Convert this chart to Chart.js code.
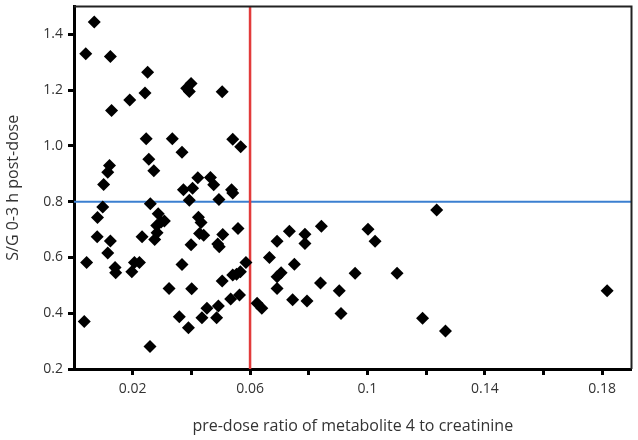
<!DOCTYPE html>
<html>
<head>
<meta charset="utf-8">
<script src="https://cdn.jsdelivr.net/npm/chart.js@4"></script>
<style>
  html, body { margin: 0; padding: 0; background: #fff; }
  #wrap { width: 638px; height: 440px; }
</style>
</head>
<body>
<div id="wrap"><canvas id="scatter"></canvas></div>
<script>
// pre-dose ratio of metabolite 4 to creatinine
const ratioX = [
  0.0069, 0.0040, 0.0124, 0.0251, 0.0242, 0.0190, 0.0128, 0.0384, 0.0399, 0.0393,
  0.0505, 0.0246, 0.0335, 0.0368, 0.0541, 0.0568, 0.0255, 0.0272, 0.0121, 0.0115,
  0.0101, 0.0422, 0.0373, 0.0404, 0.0465, 0.0476, 0.0494, 0.0393, 0.0537, 0.0541,
  0.0260, 0.0098, 0.0080, 0.0287, 0.0424, 0.0079, 0.0124, 0.0115, 0.0043, 0.0140,
  0.0142, 0.0197, 0.0206, 0.0223, 0.0232, 0.0035, 0.0259, 0.0275, 0.0283, 0.0282,
  0.0297, 0.0308, 0.0324, 0.0368, 0.0359, 0.0390, 0.0401, 0.0399, 0.0433, 0.0428,
  0.0442, 0.0436, 0.0453, 0.0486, 0.0492, 0.0490, 0.0495, 0.0505, 0.0507, 0.0534,
  0.0541, 0.0554, 0.0564, 0.0567, 0.0559, 0.0586, 0.0624, 0.0640, 0.0666, 0.0692,
  0.0692, 0.0706, 0.0692, 0.0734, 0.0751, 0.0745, 0.0787, 0.0787, 0.0794, 0.0843,
  0.0840, 0.0904, 0.0910, 0.0958, 0.1002, 0.1026, 0.1101, 0.1188, 0.1266, 0.1236,
  0.1817
];
// S/G 0-3 h post-dose
const sgY = [
  1.444, 1.331, 1.321, 1.264, 1.190, 1.165, 1.127, 1.207, 1.224, 1.195,
  1.194, 1.026, 1.026, 0.977, 1.024, 0.997, 0.952, 0.911, 0.930, 0.906,
  0.862, 0.886, 0.843, 0.848, 0.887, 0.861, 0.808, 0.805, 0.843, 0.831,
  0.793, 0.781, 0.743, 0.757, 0.744, 0.674, 0.659, 0.616, 0.582, 0.564,
  0.545, 0.549, 0.582, 0.582, 0.674, 0.370, 0.281, 0.664, 0.689, 0.715,
  0.727, 0.731, 0.489, 0.575, 0.387, 0.348, 0.488, 0.646, 0.725, 0.686,
  0.680, 0.384, 0.418, 0.384, 0.426, 0.648, 0.638, 0.516, 0.682, 0.451,
  0.537, 0.540, 0.465, 0.549, 0.704, 0.582, 0.436, 0.418, 0.600, 0.658,
  0.531, 0.545, 0.489, 0.694, 0.576, 0.448, 0.683, 0.650, 0.444, 0.712,
  0.508, 0.481, 0.399, 0.543, 0.701, 0.658, 0.543, 0.382, 0.336, 0.770,
  0.481
];

const xCutoff = 0.06;   // red line
const yCutoff = 0.8;    // blue line
const xTicks = [0.02, 0.04, 0.06, 0.08, 0.1, 0.12, 0.14, 0.16, 0.18];
const xTickLabels = ['0.02', '', '0.06', '', '0.1', '', '0.14', '', '0.18'];
const yTicks = [0.2, 0.4, 0.6, 0.8, 1.0, 1.2, 1.4];
const yTickLabels = ['0.2', '0.4', '0.6', '0.8', '1.0', '1.2', '1.4'];
const xRange = [0, 0.19];
const yRange = [0.2, 1.5];

const points = ratioX.map((x, i) => ({ x: x, y: sgY[i] }));

// thin frame on top/right
const frame = {
  id: 'frame',
  afterDraw(chart) {
    const { ctx, chartArea: a } = chart;
    ctx.save();
    ctx.strokeStyle = '#222';
    ctx.lineWidth = 2;
    ctx.beginPath();
    ctx.moveTo(a.left, a.top);
    ctx.lineTo(a.right, a.top);
    ctx.lineTo(a.right, a.bottom);
    ctx.stroke();
    ctx.restore();
  }
};

const tickFont = { family: 'Open Sans', size: 14 };

new Chart(document.getElementById('scatter').getContext('2d'), {
  type: 'scatter',
  data: {
    datasets: [
      {
        data: points,
        pointStyle: 'rectRot',
        radius: 6.5,
        backgroundColor: '#000',
        borderColor: '#000',
        borderWidth: 0,
        order: 1
      },
      {
        data: [{ x: xCutoff, y: yRange[0] }, { x: xCutoff, y: yRange[1] }],
        showLine: true,
        borderColor: '#e23b3b',
        borderWidth: 2.5,
        pointRadius: 0,
        order: 2
      },
      {
        data: [{ x: xRange[0], y: yCutoff }, { x: xRange[1], y: yCutoff }],
        showLine: true,
        borderColor: '#3b7fd0',
        borderWidth: 2,
        pointRadius: 0,
        order: 3
      }
    ]
  },
  options: {
    responsive: true,
    maintainAspectRatio: false,
    animation: false,
    layout: { padding: { top: 5, right: 6, left: 0, bottom: 0 } },
    plugins: { legend: { display: false }, tooltip: { enabled: false } },
    scales: {
      x: {
        type: 'linear',
        min: xRange[0],
        max: xRange[1],
        afterBuildTicks: s => { s.ticks = xTicks.map(v => ({ value: v })); },
        afterFit: s => { s.height = 71; },
        ticks: {
          autoSkip: false,
          maxRotation: 0,
          padding: 6,
          color: '#333',
          font: tickFont,
          callback: (v, i) => xTickLabels[i]
        },
        grid: {
          drawOnChartArea: false,
          drawTicks: true,
          tickLength: 6,
          tickWidth: 3,
          tickColor: '#000'
        },
        border: { color: '#000', width: 3 },
        title: {
          display: true,
          text: 'pre-dose ratio of metabolite 4 to creatinine',
          color: '#333',
          font: { family: 'Open Sans', size: 16 },
          padding: { top: 10, bottom: 4 }
        }
      },
      y: {
        type: 'linear',
        min: yRange[0],
        max: yRange[1],
        afterBuildTicks: s => { s.ticks = yTicks.map(v => ({ value: v })); },
        afterFit: s => { s.width = 74; s.paddingTop = 0; s.paddingBottom = 0; },
        ticks: {
          padding: 5,
          color: '#333',
          font: tickFont,
          callback: (v, i) => yTickLabels[i]
        },
        grid: {
          drawOnChartArea: false,
          drawTicks: true,
          tickLength: 6,
          tickWidth: 3,
          tickColor: '#000'
        },
        border: { color: '#000', width: 3 },
        title: {
          display: true,
          text: 'S/G 0-3 h post-dose',
          color: '#333',
          font: { family: 'Open Sans', size: 16 },
          padding: { top: 4, bottom: 6 }
        }
      }
    }
  },
  plugins: [frame]
});
</script>
</body>
</html>
